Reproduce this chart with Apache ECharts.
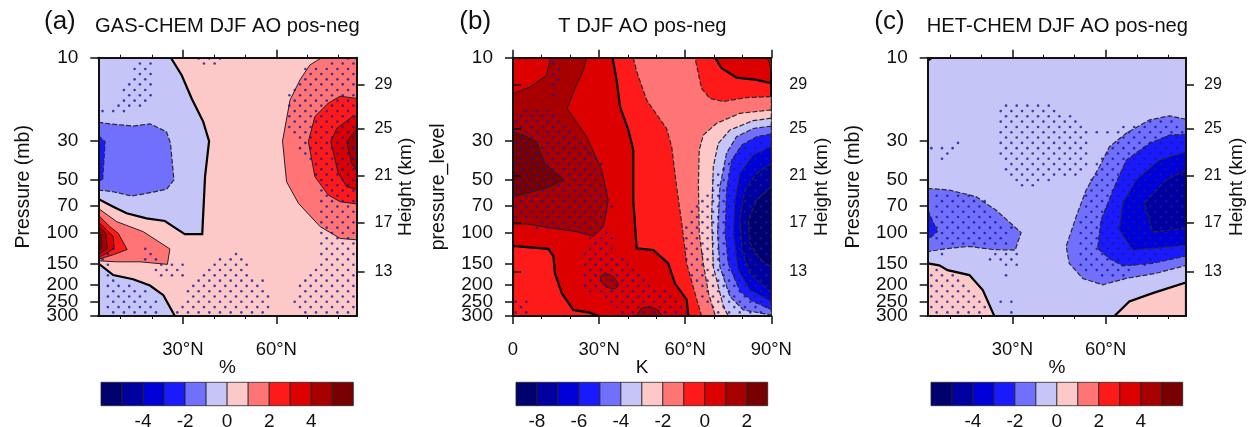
<!DOCTYPE html>
<html><head><meta charset="utf-8">
<style>html,body{margin:0;padding:0;background:#fff}#c{width:1256px;height:427px;filter:blur(0.45px)}</style>
<script src="https://cdn.jsdelivr.net/npm/echarts@6/dist/echarts.min.js"></script>
</head><body><div id="c"></div>
<script>
// ---- tick values and labels ----
const pressureTicks=[10,30,50,70,100,150,200,299.99];
const pressureTickCrowded=[250];
const heightLabels=[29,25,21,17,13];
const heightAsPressure=[14.3,25.5,47.3,88.1,167];
const latMajorAC=[30,60];
const latMajorB=[0,30,60,90];
const latMinorAC=[10,20,40,50,70,80];
const latMinorB=[10,20,40,50,70,80];
const colorTicksAC=[-4,-2,0,2,4];
const colorTicksB=[-8,-6,-4,-2,0,2];
const colorEdgesAC=[-6,-5,-4,-3,-2,-1,0,1,2,3,4,5,6];
const colorEdgesB=[-9,-8,-7,-6,-5,-4,-3,-2,-1,0,1,2,3];
const levelColors=['#00006e','#0000a0','#0000d8','#1a1aff','#7070fc','#c5c5f8','#fdc8c8','#ff7575','#ff1a1a','#dc0000','#a80000','#780000'];

// ---- contour outlines, [latitude, pressure] ----
const aBlueUpper=[[2.8,10],[26.1,10],[29.6,12.6],[32.8,17.1],[36.5,23.2],[38.4,30],[37.1,47.9],[36.2,102],[30.6,102],[26.9,92.5],[24.2,85.9],[18.3,83],[11.9,77.6],[7.6,71.1],[2.8,64.3]];
const aBlueMid=[[2.8,23.4],[6.5,23.9],[14,24.6],[19.4,23.9],[24.7,26.5],[26,30.9],[27.1,50],[24.7,56.6],[18.3,59.7],[13.5,61.8],[7.6,58.4],[2.8,57.1]];
const aBlueCore=[[2.8,27.9],[5,30.2],[4.2,50],[2.8,50.6]];
const aRedLow1=[[2.8,72.7],[8.7,86.6],[17.2,98.8],[25.8,124],[25,152],[16.2,147],[8.7,147],[2.8,145]];
const aRedLow2=[[2.8,79.4],[6.5,92.5],[9.2,101],[12.1,125],[7.6,134],[2.8,142]];
const aRedLow3=[[2.8,86.6],[5.5,96.7],[7.6,105],[7.9,123],[5.5,131],[2.8,139]];
const aRedLow4=[[2.8,90.6],[5.2,101],[5.7,123],[2.8,134]];
const aRedLow5=[[2.8,96.7],[3.9,105],[3.9,123],[2.8,128.5]];
const aBlueBottom=[[2.8,150],[7.6,175],[14,185],[19.4,201],[23.7,228],[27.4,300],[2.8,300]];
const aRedPole1=[[74.6,10],[70.8,11],[67.6,13.4],[64.4,17.5],[62,30],[63.3,51.2],[67.1,68],[74.1,92.5],[80.5,108],[85.8,110],[85.8,10]];
const aRedPole2=[[80.5,16.6],[85.8,17.1],[85.8,68.6],[80.5,66.6],[76.7,61],[72.4,47.9],[70.3,30.2],[72.4,21.7],[76.7,18.2]];
const aRedPole3=[[84.8,21.5],[85.8,21.7],[85.8,56.6],[82.6,54.7],[79.9,45.8],[77.5,30.2],[79.4,25.4]];
const aRedPole4=[[85.8,25.4],[82.6,30.2],[84.2,40.2],[85.8,43.9]];

const bEast=[[34.7,10],[36.1,13.4],[37.3,19.1],[40.2,25.9],[41.9,33.7],[41.9,65.2],[43.1,123],[48.9,126],[54.1,150],[56.4,195],[60.5,242],[61.1,300],[90,300],[90,10]];
const bSouthWest=[[0,119],[4.8,121],[12.3,124],[14.1,137],[14.6,171],[17,222],[21,277],[26.8,287],[29.7,300],[0,300]];
const bPale=[[41.9,10],[43.1,12],[46.6,17.5],[53.5,25.4],[55.3,32.3],[57,54.7],[58.8,88.6],[60.5,150],[63.4,222],[65.7,300],[90,300],[90,16.7],[81.4,16.9],[73.3,17.8],[68.6,17.1],[65.7,15],[63.4,10]];
const bTopRight=[[70.4,10],[72.7,11.5],[77.9,13],[84.9,13.4],[90,14],[90,10]];
const bTopCorner=[[87.8,10],[89,10.3],[90,12],[90,10]];
const bNeg1=[[90,19.9],[79.1,20.8],[71,23.7],[66.3,27.7],[64.9,33.7],[64.6,52.3],[64.9,101],[66.3,150],[68.1,222],[70.4,296],[70.7,300],[90,300]];
const bNeg2=[[90,22.2],[83.7,22.9],[75.6,25.9],[71.5,30.9],[69.8,42],[69.2,81.2],[69.8,157],[73.3,265],[75,300],[90,300]];
const bNeg3=[[90,24.6],[83.7,25.4],[77.9,28.3],[74.4,35.2],[72.1,54.7],[71.3,101],[72.1,157],[75.6,232],[80.3,277],[90,296]];
const bNeg4=[[90,27.3],[84.9,28.3],[79.7,31.6],[76.2,38.5],[74.4,57.1],[73.9,101],[75,150],[79.1,217],[83.7,248],[90,275]];
const bNeg5=[[90,32.3],[83.7,36],[79.1,45.8],[77.4,65.2],[76.8,101],[78.5,164],[82.6,213],[90,248]];
const bNeg6=[[90,40.2],[84.9,45.8],[80.8,57.1],[79.1,81.2],[79.7,126],[82.6,171],[90,222]];
const bNeg7=[[90,54.7],[84.9,65.2],[82,84.7],[82.6,115],[86.1,143],[90,157]];
const bWarm=[[0,16],[5.9,14.7],[11.7,12.6],[13.1,10],[25.7,10],[24.5,11.8],[21.6,15],[18.9,19.5],[25.7,28.3],[30.9,43.9],[33.2,65.2],[31.5,92.5],[28,105],[22.2,98.8],[14.1,94.6],[4.8,89.3],[0,89.3]];
const bWarmCore=[[0,26.7],[3.6,27.7],[8.2,30.2],[11.1,40.2],[17.8,50],[12.9,54.7],[4.8,59.7],[0,62.3]];
const bIsland=[[30.3,178.7],[32.1,169.5],[35,178.7],[36.9,199],[35.5,211],[32.6,205.6],[30.9,193]];
const bBottomHill=[[42.9,300],[44.8,270],[47.7,265],[50.6,277],[51.8,300]];

const cCorner=[[2.8,10],[4.2,10],[2.8,10.4]];
const cPinkLeft=[[2.8,150],[6.5,154],[9.2,164],[16.2,175],[20.5,213],[24.2,300],[2.8,300]];
const cPinkRight=[[62.8,300],[67.6,248],[75.1,222],[85.8,193],[85.8,300]];
const cLeft1=[[2.8,55.9],[9.7,57.1],[18.3,62.3],[24.7,74.3],[32.8,100],[30.9,126],[23.7,125],[16.2,120],[9.7,123],[2.8,128.5]];
const cLeft2=[[2.8,74.3],[5.9,98.8],[2.8,110]];
const cRight1=[[85.8,22.5],[80.5,21.5],[74,22.7],[66.5,27.1],[61.2,32.3],[58,42],[53.7,57.1],[50.5,81.2],[47.3,120],[48.3,150],[52.6,183],[59,199],[66.5,183],[76.2,171],[85.8,154]];
const cRight2=[[85.8,27.4],[80.5,27.7],[74,30.9],[66.6,38.5],[62.8,54.7],[58.5,84.7],[57.4,123],[61.2,141],[65.5,155],[75.1,150],[85.8,136]];
const cRight3=[[85.8,34.5],[77.3,38.5],[69.8,50],[65.5,68],[64.4,96.7],[68.7,126],[75.1,123],[85.8,118]];
const cRight4=[[85.8,43.9],[79.4,50],[72.4,68],[75.1,98.8],[85.8,94.6]];

// ---- significance stippling: pressure of each dot row, latitude columns, and [row, fromLat, toLat] spans ----
const stippleRows=[10.1,10.8,11.6,12.4,13.3,14.2,15.3,16.4,17.6,18.8,20.2,21.6,23.2,24.9,26.7,28.6,30.7,32.9,35.3,37.8,40.6,43.5,46.6,50,53.6,57.5,61.6,66.1,70.9,76,81.5,87.4,93.7,100.5,107.7,115.5,123.9,132.8,142.4,152.7,163.8,175.6,188.3,201.8,216.4,232,248.9,266.8,286.1];
const stippleLatsA=[2.45,4.17,5.88,7.6,9.31,11.03,12.74,14.46,16.17,17.89,19.6,21.32,23.03,24.75,26.46,28.18,29.89,31.61,33.32,35.04,36.75,38.47,40.18,41.9,43.61,45.33,47.04,48.76,50.47,52.19,53.9,55.62,57.33,59.05,60.76,62.48,64.19,65.91,67.62,69.34,71.05,72.77,74.48,76.2,77.91,79.63,81.34,83.06,84.77];
const stippleLatsB=[-0.93,0.93,2.79,4.65,6.5,8.36,10.2,12.08,13.9,15.8,17.65,19.5,21.4,23.2,25.1,26.9,28.8,30.66,32.5,34.4,36.2,38.1,39.95,41.8,43.7,45.5,47.4,49.2,51.1,52.95,54.8,56.7,58.5,60.4,62.3,64.1,66,67.8,69.7,71.5,73.4,75.3,77.1,79,80.8,82.7,84.5,86.4,88.3];
const stippleLatsC=[3.96,5.68,7.39,9.11,10.82,12.54,14.25,15.97,17.68,19.4,21.11,22.83,24.54,26.26,27.97,29.69,31.4,33.12,34.83,36.55,38.26,39.98,41.69,43.41,45.12,46.84,48.55,50.27,51.98,53.7,55.41,57.13,58.84,60.56,62.27,63.99,65.7,67.42,69.13,70.85,72.56,74.28,75.99,77.71,79.42,81.14,82.85,84.57];

const stippleA=[[-1,35,42.5],[0,15.5,20],[0,36,41],[1,14,18],[2,14,20],[3,14,18],[4,12,20],[5,10.5,18],[6,12,20],[7,10.5,18],[8,9,17],[9,4,12],
[-1,80,85],[0,70,70.6],[0,76.2,85],[1,68.5,85],[2,70,85],[3,68.5,85],[4,67,85],[5,65.5,85],[6,63.9,85],[7,63.9,85],[8,63.5,85],[9,63.3,85],[10,63.3,85],[11,63.9,85],[12,63.9,85],[13,65.5,85],[14,67,85],[15,67,85],[16,67,85],[17,68.5,85],[18,68.5,85],[19,70,85],[20,71.7,85],[21,71.7,85],[22,71.7,85],[23,73.3,85],[24,73.3,85],[25,73.3,85],[26,73.3,85],[27,73.3,85],[28,73.3,85],[29,73.3,85],[30,73.3,85],[31,73.3,85],[32,73.3,85],[33,73.3,85],[34,73.3,85],[35,73.3,85],[36,73.3,85],[37,73.3,85],[38,71.9,85],[39,70.3,85],[40,68.7,85],[41,67.1,85],[42,67.1,85],[43,67.1,85],[44,65.5,85],[45,65.5,85],[46,67.1,85],[47,67.1,85],
[36,46,47.5],[37,41.4,48.9],[38,39.8,50.5],[39,38.1,52.1],[40,36.5,53.7],[41,34.4,55.8],[42,32.8,55.8],[43,31.2,57.4],[44,30.6,57.4],[45,31.2,56.9],[46,29.6,58],[47,28,58.5],
[35,17.5,18],[36,16.2,21.5],[37,16.2,24.7],[38,19.9,30.1],[39,21,30.6],[40,22.6,33.3],
[35,7,8],[36,4,8],[37,3.5,6.5],[38,3.5,6.5],[39,4.4,6.5],[40,4.4,7.6],[41,4.4,9.2],[42,4.4,14],[43,4.4,18.3],[44,4.4,19.4],[45,4.4,21.5],[46,4.4,21.5],[47,4.4,21.5]];

const stippleB=[[0,11.7,17.5],[1,13.3,17.5],[2,11.7,15.8],[3,13.3,17.5],[4,13.3,14],[5,13.3,15],[6,11.7,14],[9,4,13.5],[10,.5,15.8],[11,.5,17.5],[12,.5,19.9],[13,.5,21.6],[14,.5,23.4],[15,.5,25.2],[16,.5,26.9],[17,.5,29.2],[18,.5,29.2],[19,.5,30.9],[20,.5,30.9],[21,.5,32.1],[22,.5,32.1],[23,.5,32.7],[24,.5,32.7],[25,.5,32.7],[26,.5,33.8],[27,.5,34.4],[28,.5,32.7],[29,.5,32.1],[30,7.5,32.1],[31,8,32.1],[32,24.5,33.2],[33,26.3,34.4],[34,26.3,36.1],[35,24.5,36.1],[36,24.5,36.1],[37,24.5,39.6],[38,24.5,43.1],[39,24.5,43.1],[40,24.5,44.3],[41,24.5,46.6],[42,24.5,50.6],[43,26.3,54.7],[44,29.7,55.9],[45,33.8,58.2],[46,35,59.4],[47,37.3,60.5],
[45,.5,4.8],[46,2.5,6],[47,.5,5.5],
[15,84.9,88.4],[16,79.1,88.4],[17,77.4,88.4],[18,75.6,88.4],[19,73.9,88.4],[20,72.1,88.4],[21,70.4,88.4],[22,68.1,88.4],[23,68.1,88.4],[24,66.3,88.4],[25,66.3,88.4],[26,64.6,88.4],[27,61.1,88.4],[28,61.1,88.4],[29,61.1,88.4],[30,59.3,88.4],[31,59.3,88.4],[32,59.3,88.4],[33,59.3,88.4],[34,59.3,88.4],[35,59.3,88.4],[36,59.3,88.4],[37,59.3,88.4],[38,61.1,88.4],[39,61.1,88.4],[40,61.1,88.4],[41,62.9,88.4],[42,62.9,88.4],[43,64.6,88.4],[44,64.6,88.4],[45,66.3,88.4],[46,66.3,88.4],[47,68.6,88.4]];

const stippleC=[[8,24.7,41.9],[9,24.7,46.7],[10,24.7,50.5],[11,24.7,50.5],[12,24.7,52.1],[13,24.7,54],[14,24.7,54],[15,25.8,54],[16,25.8,54.8],[17,25.8,54.8],[18,25.8,54.8],[19,27.4,54.8],[20,27.4,53.2],[21,29.6,51.5],[22,31.2,41.9],[23,32.8,39.8],
[9,80,81],[10,80,81],[11,74,83.7],[12,65.5,84.8],[13,56.9,84.8],[14,62.3,84.8],[15,60.7,84.8],[16,59,84.8],[17,57.4,84.8],[18,56.9,84.8],[19,56.9,84.8],[20,55.8,84.8],[21,55.3,84.8],[22,54.8,84.8],[23,54.8,84.8],[24,53.7,84.8],[25,53.7,84.8],[26,53.7,84.8],[27,53.7,84.8],[28,52.1,84.8],[29,52.1,84.8],[30,50.5,84.8],[31,50.5,84.8],[32,50.5,84.8],[33,50.5,84.8],[34,50.5,84.8],[35,50.5,84.8],[36,50.5,80.5],[37,50.5,75.1],[38,50.5,75.1],[39,52.1,69.8],[40,55.8,66.5],
[14,7.6,10.8],[15,9.2,13],[16,3.8,11.4],[17,6,9.7],[18,7.3,8],
[24,6,7],[25,3.8,18.3],[26,4.4,21.2],[27,3.8,21.2],[28,4.4,24],[29,3.8,25.8],[30,4.4,27],[31,4.4,30.6],[32,4.4,31.2],[33,4.4,29.6],[34,6,29.6],[36,4.4,8],[36,22,32],[37,7,8],[37,22.6,31.7],[38,24.7,31.7],[39,26.4,29.6],[40,24.7,28],
[39,3.8,7.6],[40,3.8,13],[41,3.8,14.6],[42,3.8,16.2],[43,3.8,18.3],[44,3.8,18.3],[45,3.8,19.9],[46,3.8,21.5],[47,3.8,21.5],
[45,26,30],[46,28,28.5],[47,29.5,30],[47,83.8,84.4]];

// ---- layers painted back to front: outline, colour level, contour style ----
const layersA=[[aBlueUpper,5,'thick'],[aBlueMid,4,'dash'],[aBlueCore,3,'dash'],[aRedLow1,7,'thin'],[aRedLow2,8,'thin'],[aRedLow3,9,'thin'],[aRedLow4,10,'thin'],[aRedLow5,11,'thin'],[aBlueBottom,5,'thick'],[aRedPole1,7,'thin'],[aRedPole2,8,'thin'],[aRedPole3,9,'thin'],[aRedPole4,10,'thin']];
const layersB=[[bEast,8,'thick'],[bSouthWest,8,'thick'],[bPale,7,'dash'],[bTopRight,9,'thick'],[bTopCorner,10,'thin'],[bNeg1,6,'dash'],[bNeg2,5,'dash'],[bNeg3,4,'dash'],[bNeg4,3,'dash'],[bNeg5,2,'dash'],[bNeg6,1,'dash'],[bNeg7,0,'dash'],[bWarm,10,'thin'],[bWarmCore,11,'thin'],[bIsland,10,'thin'],[bBottomHill,10,'thin']];
const layersC=[[cCorner,6,'thick'],[cPinkLeft,6,'thick'],[cPinkRight,6,'thick'],[cLeft1,4,'dash'],[cLeft2,3,'dash'],[cRight1,4,'dash'],[cRight2,3,'dash'],[cRight3,2,'dash'],[cRight4,1,'dash']];

const panels=[
 {left:98.3,latMin:2.8,latMax:85.8,base:6,layers:layersA,major:latMajorAC,minor:latMinorAC,stipple:stippleA,lats:stippleLatsA,leftName:'Pressure (mb)',leftGap:65,unit:'%',barLeft:101,barWidth:252.3,edges:colorEdgesAC,ticks:colorTicksAC,tag:'(a)',tagLeft:44,title:'GAS-CHEM DJF AO pos-neg',titleLeft:95,rightGap:39},
 {left:513,latMin:0,latMax:90,base:9,layers:layersB,major:latMajorB,minor:latMinorB,stipple:stippleB,lats:stippleLatsB,leftName:'pressure_level',leftGap:64,unit:'K',barLeft:516,barWidth:251.7,edges:colorEdgesB,ticks:colorTicksB,tag:'(b)',tagLeft:459.3,title:'T DJF AO pos-neg',titleLeft:558.3,rightGap:41},
 {left:927.7,latMin:2.8,latMax:85.8,base:5,layers:layersC,major:latMajorAC,minor:latMinorAC,stipple:stippleC,lats:stippleLatsC,leftName:'Pressure (mb)',leftGap:64,unit:'%',barLeft:931,barWidth:251.7,edges:colorEdgesAC,ticks:colorTicksAC,tag:'(c)',tagLeft:874.3,title:'HET-CHEM DJF AO pos-neg',titleLeft:926.7,rightGap:41}
];

const FONT='Liberation Sans';
const black='#111';
const grid=[],xAxis=[],yAxis=[],series=[],title=[];
const lineStyles={thick:{stroke:'#000',lineWidth:2.2},thin:{stroke:'#222',lineWidth:1},dash:{stroke:'#2a2a2a',lineWidth:1.2,lineDash:[5,2]}};
function nearestHeight(v){
  let best=0;
  heightAsPressure.forEach(function(h,i){ if(Math.abs(h-v)<Math.abs(heightAsPressure[best]-v)) best=i; });
  return String(heightLabels[best]);
}

panels.forEach(function(p){
  const g=grid.length;
  grid.push({left:p.left,top:57.7,width:258.3,height:258.3,outerBoundsMode:'none'});
  function xA(o){xAxis.push(Object.assign({type:'value',gridIndex:g,min:p.latMin,max:p.latMax,z:10,splitLine:{show:false},axisLabel:{show:false},axisTick:{show:false},axisLine:{show:true,lineStyle:{color:black,width:2}}},o));return xAxis.length-1;}
  const x0=xA({position:'bottom',name:p.unit,nameLocation:'middle',nameGap:42,nameMoveOverlap:false,nameTextStyle:{fontFamily:FONT,fontSize:19,color:black},
    axisTick:{show:true,length:8,customValues:p.major,lineStyle:{color:black,width:1.5}},
    axisLabel:{show:true,customValues:p.major,margin:24,fontFamily:FONT,fontSize:18.5,color:black,hideOverlap:false,formatter:function(v){return +v===0?'0':v+'°N';}}});
  xA({position:'top',axisTick:{show:true,length:8,customValues:p.major,lineStyle:{color:black,width:1.5}}});
  xA({position:'bottom',axisTick:{show:true,length:3,customValues:p.minor,lineStyle:{color:black,width:1}}});
  xA({position:'top',axisTick:{show:true,length:3,customValues:p.minor,lineStyle:{color:black,width:1}}});
  const y0=yAxis.length;
  yAxis.push({type:'log',gridIndex:g,logBase:10,min:10,max:300,inverse:true,position:'left',z:10,splitLine:{show:false},minorTick:{show:false},
    name:p.leftName,nameLocation:'middle',nameGap:p.leftGap,nameRotate:90,nameTextStyle:{fontFamily:FONT,fontSize:19.5,color:black},
    axisLine:{show:true,lineStyle:{color:black,width:2}},
    axisTick:{show:true,length:8,customValues:pressureTicks,lineStyle:{color:black,width:1.5}},
    axisLabel:{show:true,customValues:pressureTicks,showMinLabel:true,showMaxLabel:true,margin:20,fontFamily:FONT,fontSize:19,color:black,hideOverlap:false,formatter:function(v){return String(Math.round(v));}}});
  yAxis.push({type:'log',gridIndex:g,logBase:10,min:10,max:300,inverse:true,position:'right',z:10,splitLine:{show:false},minorTick:{show:false},
    name:'Height (km)',nameLocation:'middle',nameGap:p.rightGap,nameRotate:90,nameTextStyle:{fontFamily:FONT,fontSize:19,color:black},
    axisLine:{show:true,lineStyle:{color:black,width:2}},
    axisTick:{show:true,length:8,customValues:heightAsPressure,lineStyle:{color:black,width:1.5}},
    axisLabel:{show:true,customValues:heightAsPressure,margin:18,fontFamily:FONT,fontSize:16,color:black,hideOverlap:false,formatter:function(v){return nearestHeight(v);}}});
  yAxis.push({type:'log',gridIndex:g,logBase:10,min:10,max:300,inverse:true,position:'left',z:10,splitLine:{show:false},minorTick:{show:false},
    axisLine:{show:false},
    axisTick:{show:true,length:8,customValues:pressureTickCrowded,lineStyle:{color:black,width:1.5}},
    axisLabel:{show:true,customValues:pressureTickCrowded,margin:20,fontFamily:FONT,fontSize:19,color:black,hideOverlap:false,formatter:function(v){return String(Math.round(v));}}});

  const layers=[[[[p.latMin,10],[p.latMax,10],[p.latMax,300],[p.latMin,300]],p.base,'none']].concat(p.layers);
  series.push({type:'custom',coordinateSystem:'cartesian2d',xAxisIndex:x0,yAxisIndex:y0,clip:true,silent:true,z:2,animation:false,
    data:layers.map(function(l,i){return [i];}),
    renderItem:function(params,api){
      const l=layers[params.dataIndex];
      const st=Object.assign({fill:levelColors[l[1]]},lineStyles[l[2]]||{stroke:null,lineWidth:0});
      return {type:'polygon',shape:{points:l[0].map(function(q){return api.coord(q);})},style:st};
    }});
  const dots=[];
  p.stipple.forEach(function(s){
    p.lats.forEach(function(lat,j){
      if((j+s[0])%2===0&&lat>=s[1]&&lat<=s[2]) dots.push([lat,stippleRows[s[0]+1]]);
    });
  });
  series.push({type:'scatter',xAxisIndex:x0,yAxisIndex:y0,data:dots,symbolSize:2.6,z:3,silent:true,animation:false,itemStyle:{color:'#18189a'}});

  // colour bar
  const gb=grid.length;
  grid.push({left:p.barLeft,top:382.3,width:p.barWidth,height:23.4,outerBoundsMode:'none'});
  xAxis.push({type:'value',gridIndex:gb,min:p.edges[0],max:p.edges[p.edges.length-1],z:10,splitLine:{show:false},axisLine:{show:false},axisTick:{show:false},
    axisLabel:{show:true,customValues:p.ticks,margin:7,fontFamily:FONT,fontSize:19,color:black,hideOverlap:false}});
  yAxis.push({type:'value',gridIndex:gb,min:0,max:1,show:false});
  series.push({type:'custom',coordinateSystem:'cartesian2d',xAxisIndex:xAxis.length-1,yAxisIndex:yAxis.length-1,silent:true,z:2,animation:false,
    data:levelColors.map(function(c,i){return [p.edges[i],p.edges[i+1],i];}),
    renderItem:function(params,api){
      const a=api.coord([api.value(0),1]),b=api.coord([api.value(1),0]);
      return {type:'rect',shape:{x:a[0],y:a[1],width:b[0]-a[0],height:b[1]-a[1]},style:{fill:levelColors[api.value(2)],stroke:'#222',lineWidth:0.8}};
    }});

  title.push({text:p.tag,left:p.tagLeft,top:9,padding:0,textStyle:{fontFamily:FONT,fontSize:26,fontWeight:'normal',color:black}});
  title.push({text:p.title,left:p.titleLeft,top:16,padding:0,textStyle:{fontFamily:FONT,fontSize:20.2,fontWeight:'normal',color:black}});
});

const chart=echarts.init(document.getElementById('c'),null,{width:1256,height:427});
chart.setOption({animation:false,backgroundColor:'#fff',title:title,grid:grid,xAxis:xAxis,yAxis:yAxis,series:series});
</script></body></html>
